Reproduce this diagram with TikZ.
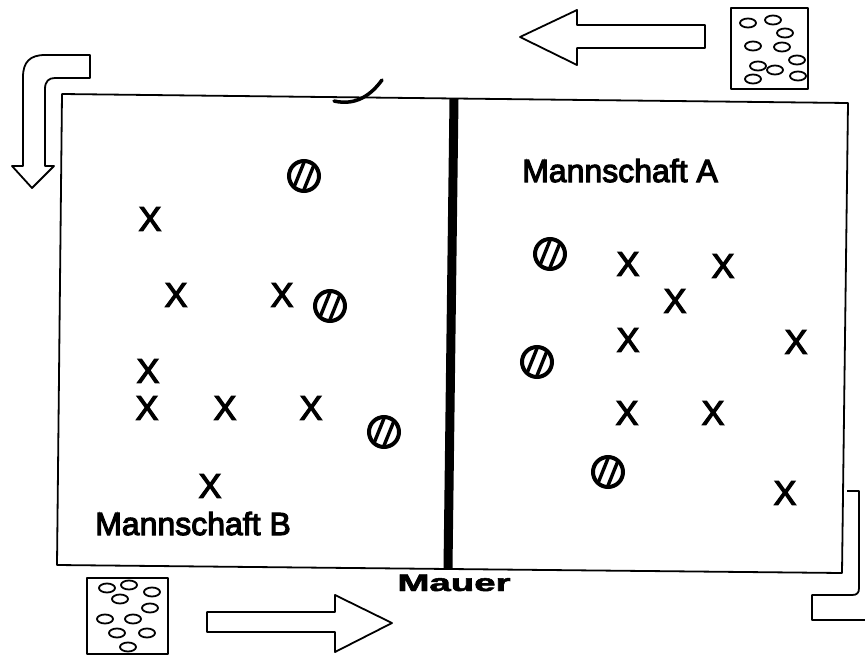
\documentclass[tikz,border=0pt]{standalone}
\usepackage{fontspec}
\setmainfont{Liberation Sans}
\newfontfamily\heavyfont[FakeBold=3.5]{Liberation Sans}
\newfontfamily\heavybold[FakeBold=2]{Liberation Sans Bold}
\usetikzlibrary{calc,shapes.geometric}
\begin{document}
\begin{tikzpicture}[x=1pt,y=-1pt,
  outline/.style={line width=1.8pt,line join=round},
  xmark/.style={inner sep=0pt,font=\heavyfont\fontsize{34}{34}\selectfont},
  team/.style={inner sep=0pt,anchor=base west,font=\heavyfont\fontsize{32}{32}\selectfont},
  ball/.style={circle,draw,line width=4pt,minimum size=30pt,inner sep=0pt,
    path picture={\foreach \d in {-5.5,5.5}{\draw[line width=3.4pt]
      ($(path picture bounding box.center)+(\d pt,0pt)+(-112:22pt)$) -- ++(68:44pt);}}},
  pebble/.style={ellipse,draw,line width=1.8pt,minimum width=16pt,minimum height=9pt,inner sep=0pt}]
\useasboundingbox (0,0) rectangle (865,656);
% field
\coordinate (tl) at (62,94);
\coordinate (tr) at (848,103);
\coordinate (br) at (842,573);
\coordinate (bl) at (57,565);
\draw[outline] (tl) -- (tr) -- (br) -- (bl) -- cycle;
% wall
\coordinate (wt) at (454,99);
\coordinate (wb) at (448,568);
\draw[line width=9pt] (wt) -- (wb);
\node[inner sep=0pt,anchor=base,font=\heavybold\fontsize{24}{24}\selectfont] (mauer) at (454,591) {\scalebox{1.6}[1]{Mauer}};
% brush mark
\draw[line width=3.5pt,line cap=round] (334,101) .. controls (356,106) and (371,95) .. (382,80);
% team labels
\node[team] (ta) at (522,182) {Mannschaft A};
\node[team] (tb) at (95,535) {Mannschaft B};
% players B
\node[xmark] (x1) at (150,219) {X};
\node[xmark] (x2) at (176,295) {X};
\node[xmark] (x3) at (282,295) {X};
\node[xmark] (x4) at (148,371) {X};
\node[xmark] (x5) at (147,408) {X};
\node[xmark] (x6) at (225,408) {X};
\node[xmark] (x7) at (311,408) {X};
\node[xmark] (x8) at (210,486) {X};
% players A
\node[xmark] (y1) at (628,264) {X};
\node[xmark] (y2) at (723,266) {X};
\node[xmark] (y3) at (675,301) {X};
\node[xmark] (y4) at (628,340) {X};
\node[xmark] (y5) at (796,342) {X};
\node[xmark] (y6) at (627,413) {X};
\node[xmark] (y7) at (713,413) {X};
\node[xmark] (y8) at (785,493) {X};
% balls
\node[ball] (b1) at (304,176) {};
\node[ball] (b2) at (330,306) {};
\node[ball] (b3) at (384,432) {};
\node[ball] (b4) at (550,254) {};
\node[ball] (b5) at (537,362) {};
\node[ball] (b6) at (608,472) {};
% ball boxes
\draw[outline] (731,8) rectangle (808,89);
\foreach \p/\q [count=\i] in {748/23,773/20,785/33,753/46,782/47,797/60,758/66,775/70,798/76,753/79}
  \node[pebble] (pa\i) at (\p,\q) {};
\draw[outline] (87,578) rectangle (168,654);
\foreach \p/\q [count=\i] in {107/588,129/585,152/592,120/599,150/608,105/619,133/619,117/633,147/633,128/647}
  \node[pebble] (pb\i) at (\p,\q) {};
% straight arrows
\draw[outline] (520,37) -- (577,10) -- (577,25) -- (705,25) -- (705,48) -- (577,48) -- (577,65) -- cycle;
\draw[outline] (207,612) -- (335,612) -- (335,595) -- (392,623) -- (335,652) -- (335,632) -- (207,632) -- cycle;
% bent arrow top left
\draw[outline] (23,166) -- (23,77) .. controls (23,62) and (30,55) .. (45,55) -- (90,55) -- (90,78)
  -- (55,78) .. controls (49,78) and (45,81) .. (45,89) -- (45,166) -- (54,166) -- (32,188) -- (12,166) -- cycle;
% bent arrow bottom right (cut)
\draw[outline] (847,491) -- (859,491) -- (859,588) .. controls (859,593) and (857,595) .. (852,595) -- (812,595) -- (812,620) -- (865,620);
\end{tikzpicture}
\end{document}
